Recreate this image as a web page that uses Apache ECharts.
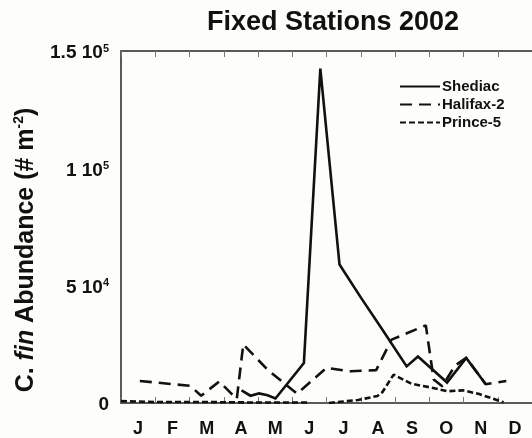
<!DOCTYPE html>
<html>
<head>
<meta charset="utf-8">
<script src="https://cdn.jsdelivr.net/npm/echarts@6/dist/echarts.min.js"></script>
<style>
  html, body { margin: 0; padding: 0; background: #fdfdfa; }
  #chart { width: 532px; height: 438px; }
</style>
</head>
<body>
<div id="chart"></div>
<script>
// Sampling times in months since 1 January 2002, with abundance in individuals per m²
const monthLabels = ['J', 'F', 'M', 'A', 'M', 'J', 'J', 'A', 'S', 'O', 'N', 'D'];

const shediacMonth = [3.52, 3.78, 4.03, 4.28, 4.51, 5.34, 5.82, 6.38, 7.0, 7.6, 8.34, 8.67, 9.52, 10.08, 10.65];
const shediacValue = [5400, 3100, 4100, 3300, 1900, 17000, 142500, 59000, 45000, 32000, 15600, 19800, 8700, 19200, 8000];

const halifaxMonth = [0.55, 2.02, 2.34, 2.87, 3.38, 3.57, 4.29, 5.14, 6.0, 6.7, 7.45, 7.9, 8.9, 9.13, 9.38, 9.75, 10.08, 10.65, 11.25];
const halifaxValue = [9400, 7300, 3100, 9200, 1700, 25000, 14000, 4000, 15000, 13500, 14000, 27000, 33100, 10000, 7100, 15900, 19200, 8000, 9400];

const princeMonth = [0, 1.1, 2.5, 4.0, 5.45, 5.8, 6.07, 6.92, 7.49, 7.63, 7.96, 8.48, 9.05, 9.53, 9.98, 10.46, 11.17];
const princeValue = [800, 400, 400, 200, 200, null, 0, 1300, 3000, 4600, 12100, 8200, 6600, 5000, 5400, 3800, 300];

// Tick labels of the abundance axis: mantissa and power of ten
const yTickValue = [0, 50000, 100000, 150000];
const yTickBase = ['0', '5 10', '1 10', '1.5 10'];
const yTickExp = ['', '4', '5', '5'];

const pairs = (xs, ys) => xs.map((x, i) => [x, ys[i] === null ? '-' : ys[i]]);

const FONT = '"Liberation Sans", Arial, Helvetica, sans-serif';
const INK = '#111';
const AXIS = '#5a5a5a';

const chart = echarts.init(document.getElementById('chart'), null, { renderer: 'canvas' });

const grid = { left: 121, top: 51, width: 424, height: 358 };

chart.setOption({
  backgroundColor: '#fdfdfa',
  animation: false,
  textStyle: { fontFamily: FONT },
  graphic: [
    {
      type: 'text',
      x: 333, y: 23,
      style: {
        text: 'Fixed Stations 2002',
        font: 'bold 27px ' + FONT,
        fill: INK,
        align: 'center',
        verticalAlign: 'middle'
      }
    },
    {
      type: 'text',
      x: 26, y: 250,
      rotation: Math.PI / 2,
      style: {
        text: '{n|C. }{i|fin}{n| Abundance (# m}{s|-2}{n|)}',
        align: 'center',
        verticalAlign: 'middle',
        fill: INK,
        rich: {
          n: { fontSize: 25, fontWeight: 'bold', fontFamily: FONT, fill: INK, lineHeight: 27 },
          i: { fontSize: 25, fontWeight: 'bold', fontStyle: 'italic', fontFamily: FONT, fill: INK, lineHeight: 27 },
          s: { fontSize: 14, fontWeight: 'bold', fontFamily: FONT, fill: INK, lineHeight: 14, verticalAlign: 'top' }
        }
      }
    }
  ],
  legend: {
    orient: 'vertical',
    left: 394,
    top: 74,
    itemWidth: 40,
    itemHeight: 14,
    itemGap: 3,
    itemStyle: { opacity: 0 },
    textStyle: { fontSize: 15, fontWeight: 'bold', color: INK, fontFamily: FONT, padding: [0, 0, 0, -3] },
    data: ['Shediac', 'Halifax-2', 'Prince-5']
  },
  grid: grid,
  xAxis: [
    {
      type: 'value', position: 'bottom', min: 0, max: 12, interval: 1,
      axisLine: { show: true, lineStyle: { color: AXIS, width: 2 } },
      axisTick: { show: true, inside: true, length: 6, lineStyle: { color: '#777', width: 1 } },
      axisLabel: { show: false },
      splitLine: { show: false }
    },
    {
      type: 'value', position: 'top', min: 0, max: 12, interval: 1,
      axisLine: { show: true, onZero: false, lineStyle: { color: AXIS, width: 2 } },
      axisTick: { show: true, inside: true, length: 6, lineStyle: { color: '#777', width: 1 } },
      axisLabel: { show: false },
      splitLine: { show: false }
    },
    {
      type: 'category', position: 'bottom', data: monthLabels, boundaryGap: true,
      axisLine: { show: false }, axisTick: { show: false },
      axisLabel: { show: true, margin: 17, fontSize: 18, fontWeight: 'bold', color: INK, fontFamily: FONT }
    }
  ],
  yAxis: [
    {
      type: 'value', min: 0, max: 150000, interval: 50000,
      axisLine: { show: true, lineStyle: { color: AXIS, width: 2 } },
      axisTick: { show: false },
      splitLine: { show: false },
      axisLabel: {
        margin: 12,
        padding: [4, 0, 0, 0],
        formatter: function (v) {
          const k = yTickValue.indexOf(v);
          if (k < 0) return '';
          return yTickExp[k] ? '{b|' + yTickBase[k] + '}{s|' + yTickExp[k] + '}' : '{b|' + yTickBase[k] + '}';
        },
        rich: {
          b: { fontSize: 19, fontWeight: 'bold', color: INK, fontFamily: FONT, lineHeight: 20 },
          s: { fontSize: 11, fontWeight: 'bold', color: INK, fontFamily: FONT, lineHeight: 11, verticalAlign: 'top' }
        }
      }
    }
  ],
  series: [
    {
      name: 'Shediac', type: 'line', xAxisIndex: 0, symbol: 'none',
      data: pairs(shediacMonth, shediacValue),
      lineStyle: { color: '#111', width: 2.6, type: 'solid', join: 'miter' },
      itemStyle: { color: '#111' },
      z: 4
    },
    {
      name: 'Halifax-2', type: 'line', xAxisIndex: 0, symbol: 'none',
      data: pairs(halifaxMonth, halifaxValue),
      lineStyle: { color: '#111', width: 2.6, type: [12, 7] },
      itemStyle: { color: '#111' },
      z: 3
    },
    {
      name: 'Prince-5', type: 'line', xAxisIndex: 0, symbol: 'none',
      data: pairs(princeMonth, princeValue),
      connectNulls: false,
      lineStyle: { color: '#111', width: 2.6, type: [6, 3] },
      itemStyle: { color: '#111' },
      z: 2
    }
  ]
});
</script>
</body>
</html>
